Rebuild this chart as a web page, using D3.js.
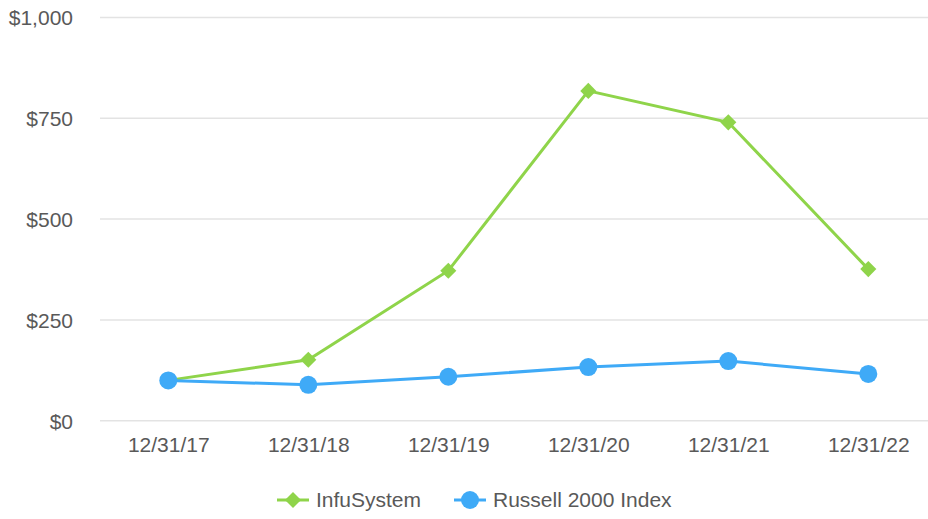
<!DOCTYPE html>
<html><head><meta charset="utf-8">
<script src="https://cdn.jsdelivr.net/npm/d3@7"></script>
<style>body{margin:0;background:#fff}svg{display:block}text{font-family:"Liberation Sans",Arial,sans-serif;fill:#595959}</style>
</head><body>
<svg id="c" width="928" height="519"></svg>
<script>
const categories = ["12/31/17","12/31/18","12/31/19","12/31/20","12/31/21","12/31/22"];
const infuSystem = [100, 151, 372, 818, 740, 376];
const russell2000 = [100, 89, 109, 133, 148, 116];
const yTicks = [0, 250, 500, 750, 1000];
const seriesNames = ["InfuSystem", "Russell 2000 Index"];
const colors = ["#8fd44a", "#3faaf7"];

const svg = d3.select("#c");
const x = d3.scalePoint().domain(categories).range([98.3, 938.3]).padding(0.5);
const y = d3.scaleLinear().domain([0, 1000]).range([420.7, 17.5]);
const FS = 21;
const FF = '"Liberation Sans",Arial,sans-serif';

// gridlines
svg.append("g").selectAll("line").data(yTicks).join("line")
  .attr("x1", 100).attr("x2", 928)
  .attr("y1", d => y(d)).attr("y2", d => y(d))
  .attr("stroke", "#e3e3e3").attr("stroke-width", 1.5);

// y axis labels
const yAxis = d3.axisLeft(y).tickValues(yTicks).tickSize(0).tickPadding(0)
  .tickFormat(d => "$" + d3.format(",")(d));
const gy = svg.append("g").attr("transform", "translate(73,0)").call(yAxis);
gy.select(".domain").remove();
gy.selectAll("text").attr("font-size", FS).attr("fill", "#595959").attr("dy", "0.35em")
  .style("font-family", FF);

// x axis labels
const xAxis = d3.axisBottom(x).tickSize(0).tickPadding(0);
const gx = svg.append("g").attr("transform", "translate(0,437)").call(xAxis);
gx.select(".domain").remove();
gx.selectAll("text").attr("font-size", FS).attr("fill", "#595959").attr("dy", "0.71em")
  .style("font-family", FF);

const line = d3.line().x((d, i) => x(categories[i])).y(d => y(d));
const diamond = d3.symbol().type(d3.symbolDiamond2).size(165);

[infuSystem, russell2000].forEach((vals, si) => {
  svg.append("path").datum(vals).attr("d", line)
    .attr("fill", "none").attr("stroke", colors[si]).attr("stroke-width", 3);
});
svg.append("g").selectAll("path").data(infuSystem).join("path")
  .attr("d", diamond)
  .attr("transform", (d, i) => `translate(${x(categories[i])},${y(d)})`)
  .attr("fill", colors[0]);
svg.append("g").selectAll("circle").data(russell2000).join("circle")
  .attr("cx", (d, i) => x(categories[i])).attr("cy", d => y(d)).attr("r", 9)
  .attr("fill", colors[1]);

// legend
const lg = svg.append("g");
const legendItems = [{x: 277, tx: 316}, {x: 454, tx: 493}];
legendItems.forEach((it, i) => {
  lg.append("line").attr("x1", it.x).attr("x2", it.x + 32).attr("y1", 500).attr("y2", 500)
    .attr("stroke", colors[i]).attr("stroke-width", 3);
  if (i === 0) {
    lg.append("path").attr("d", diamond).attr("transform", `translate(${it.x + 16},500)`).attr("fill", colors[0]);
  } else {
    lg.append("circle").attr("cx", it.x + 16).attr("cy", 500).attr("r", 9).attr("fill", colors[1]);
  }
  lg.append("text").attr("x", it.tx).attr("y", 500).attr("dy", "0.35em")
    .attr("font-size", FS).style("font-family", FF).text(seriesNames[i]);
});
</script>
</body></html>
